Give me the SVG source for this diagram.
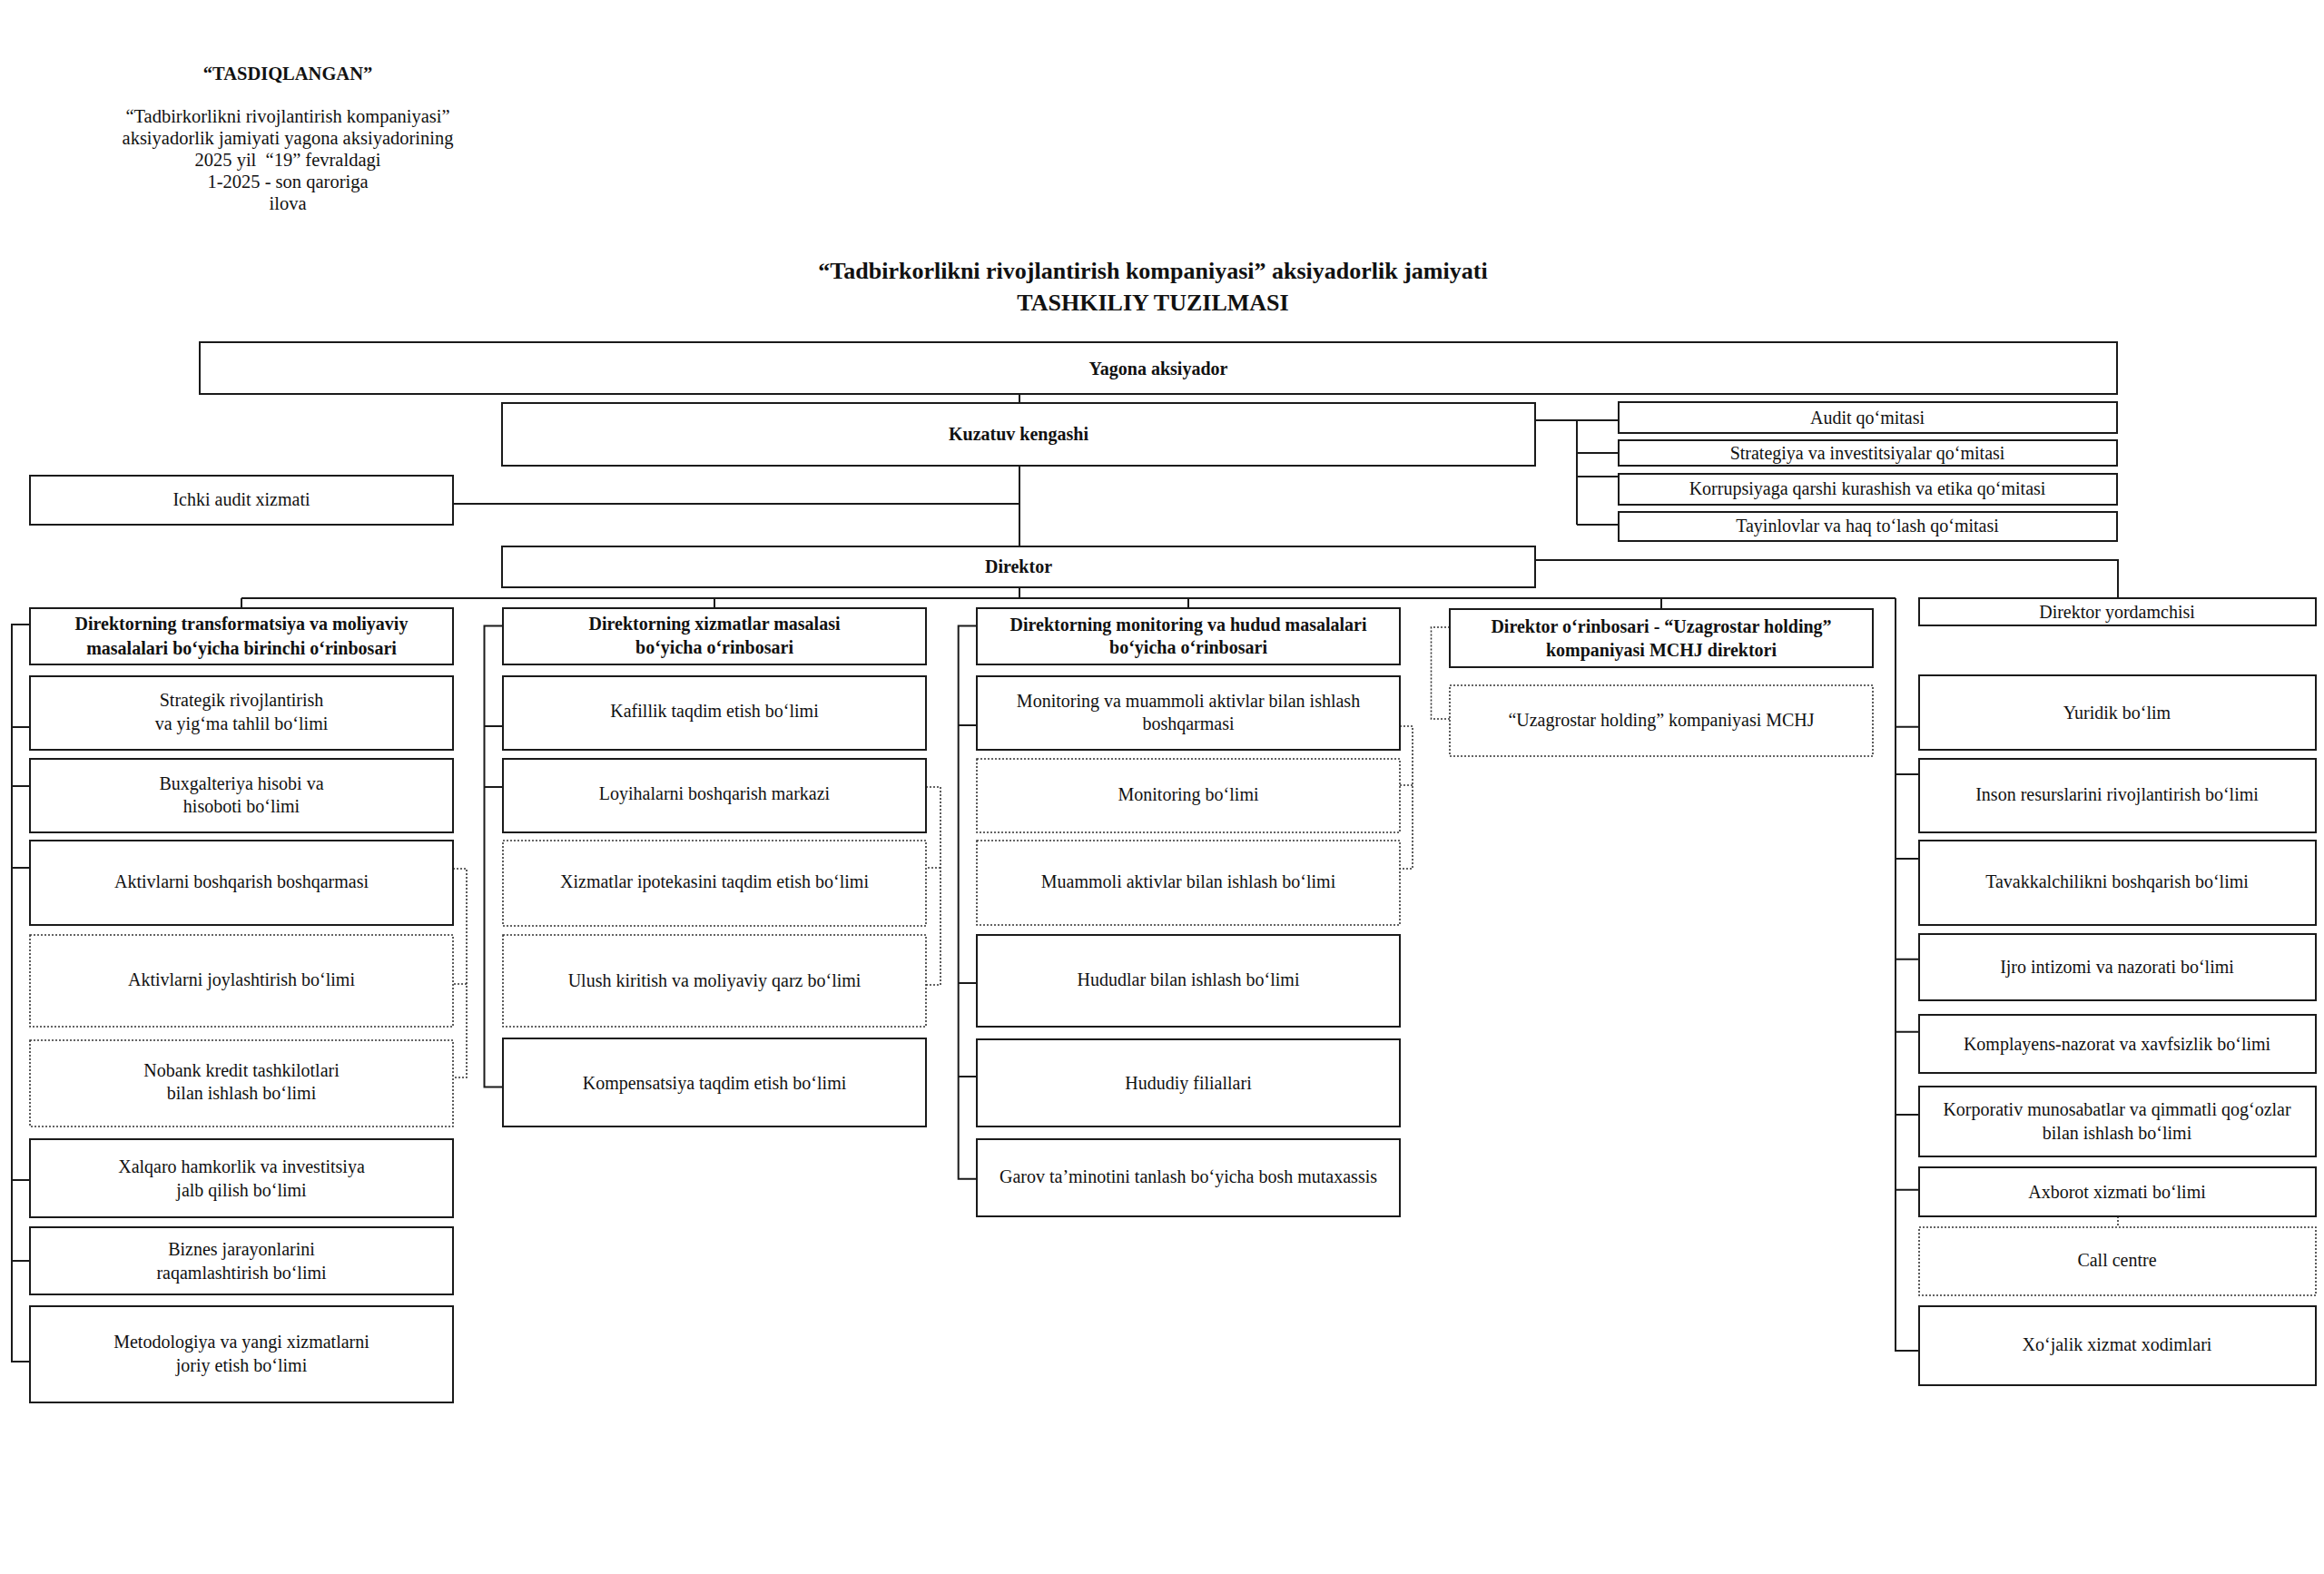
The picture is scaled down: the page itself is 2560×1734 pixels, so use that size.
<svg xmlns="http://www.w3.org/2000/svg" width="2560" height="1734" viewBox="0 0 2560 1734">
<style>
.bg{fill:#fff}
.box{fill:#fff;stroke:#1a1a1a;stroke-width:2}
.dot{fill:#fff;stroke:#333;stroke-width:1.6;stroke-dasharray:2 2}
.ln{stroke:#1a1a1a;stroke-width:2;fill:none}
.dl{stroke:#333;stroke-width:1.6;stroke-dasharray:2 2;fill:none}
text{font-family:'Liberation Serif','Times New Roman',serif;font-size:20px;fill:#111;text-anchor:middle}
.b{font-weight:bold}
.hd{font-size:20.5px}
.title{font-size:26px;font-weight:bold}
</style>
<rect class="bg" x="0" y="0" width="2560" height="1734"/>

<g id="header">
<text class="b hd" x="317" y="88">“TASDIQLANGAN”</text>
<text class="hd" x="317" y="135">“Tadbirkorlikni rivojlantirish kompaniyasi”</text>
<text class="hd" x="317" y="159">aksiyadorlik jamiyati yagona aksiyadorining</text>
<text class="hd" x="317" y="183" xml:space="preserve">2025 yil  “19” fevraldagi</text>
<text class="hd" x="317" y="207">1-2025 - son qaroriga</text>
<text class="hd" x="317" y="231">ilova</text>
</g>
<g id="title">
<text class="title" x="1270" y="307">“Tadbirkorlikni rivojlantirish kompaniyasi” aksiyadorlik jamiyati</text>
<text class="title" x="1270" y="342">TASHKILIY TUZILMASI</text>
</g>

<g id="connectors">
<path class="ln" d="M1123 434V444M1123 513V602M500 555H1123"/>
<path class="ln" d="M1691 463H1783M1737 463V578M1737 499H1783M1737 525H1783M1737 578H1783"/>
<path class="ln" d="M1690 617H2333V659"/>
<path class="ln" d="M1123 647V659M266 659H2088M266 659V670M787 659V670M1309 659V670M1830 659V671"/>
<path class="ln" d="M33 688H13V1500H33M13 801H33M13 866H33M13 956H33M13 1300H33M13 1389H33"/>
<path class="ln" d="M554 689.5H533.5V1197.6H554M533.5 800H554M533.5 867H554"/>
<path class="ln" d="M1076 689.5H1055.7V1298.8H1076M1055.7 799H1076M1055.7 1083H1076M1055.7 1186H1076"/>
<path class="ln" d="M2088 659V1488H2114M2088 800.7H2114M2088 853H2114M2088 946H2114M2088 1056.7H2114M2088 1136.7H2114M2088 1228H2114M2088 1310.7H2114"/>
<path class="dl" d="M499 957H514V1187H499M514 1084H499"/>
<path class="dl" d="M1020 867H1036V1085H1020M1036 956H1020"/>
<path class="dl" d="M1542 800H1556V957H1542M1556 865H1542"/>
<path class="dl" d="M1597 691H1576.5V792H1597"/>
<path class="dl" d="M2333 1340V1352"/>
</g>

<g id="yagona"><rect class="box" x="220" y="377" width="2112" height="57"/><text class="b" x="1276" y="413">Yagona aksiyador</text></g>
<g id="kuzatuv"><rect class="box" x="553" y="444" width="1138" height="69"/><text class="b" x="1122" y="485">Kuzatuv kengashi</text></g>
<g id="ichki-audit"><rect class="box" x="33" y="524" width="466" height="54"/><text x="266" y="557">Ichki audit xizmati</text></g>
<g id="direktor"><rect class="box" x="553" y="602" width="1138" height="45"/><text class="b" x="1122" y="631">Direktor</text></g>
<g id="audit-qomitasi"><rect class="box" x="1783" y="443" width="549" height="34"/><text x="2057" y="467">Audit qo‘mitasi</text></g>
<g id="strategiya-qomitasi"><rect class="box" x="1783" y="485" width="549" height="28"/><text x="2057" y="506">Strategiya va investitsiyalar qo‘mitasi</text></g>
<g id="korrupsiya-qomitasi"><rect class="box" x="1783" y="522" width="549" height="34"/><text x="2057" y="545">Korrupsiyaga qarshi kurashish va etika qo‘mitasi</text></g>
<g id="tayinlovlar-qomitasi"><rect class="box" x="1783" y="564" width="549" height="32"/><text x="2057" y="586">Tayinlovlar va haq to‘lash qo‘mitasi</text></g>

<g id="col1-head"><rect class="box" x="33" y="670" width="466" height="62"/><text class="b" x="266" y="694">Direktorning transformatsiya va moliyaviy</text><text class="b" x="266" y="721">masalalari bo‘yicha birinchi o‘rinbosari</text></g>
<g id="strategik"><rect class="box" x="33" y="745" width="466" height="81"/><text x="266" y="778">Strategik rivojlantirish</text><text x="266" y="804">va yig‘ma tahlil bo‘limi</text></g>
<g id="buxgalteriya"><rect class="box" x="33" y="836" width="466" height="81"/><text x="266" y="870">Buxgalteriya hisobi va</text><text x="266" y="895">hisoboti bo‘limi</text></g>
<g id="aktiv-boshqarma"><rect class="box" x="33" y="926" width="466" height="93"/><text x="266" y="978">Aktivlarni boshqarish boshqarmasi</text></g>
<g id="aktiv-joylash"><rect class="dot" x="33" y="1030" width="466" height="101"/><text x="266" y="1086">Aktivlarni joylashtirish bo‘limi</text></g>
<g id="nobank"><rect class="dot" x="33" y="1146" width="466" height="95"/><text x="266" y="1186">Nobank kredit tashkilotlari</text><text x="266" y="1211">bilan ishlash bo‘limi</text></g>
<g id="xalqaro"><rect class="box" x="33" y="1255" width="466" height="86"/><text x="266" y="1292">Xalqaro hamkorlik va investitsiya</text><text x="266" y="1318">jalb qilish bo‘limi</text></g>
<g id="biznes"><rect class="box" x="33" y="1352" width="466" height="74"/><text x="266" y="1383">Biznes jarayonlarini</text><text x="266" y="1409">raqamlashtirish bo‘limi</text></g>
<g id="metodologiya"><rect class="box" x="33" y="1439" width="466" height="106"/><text x="266" y="1485">Metodologiya va yangi xizmatlarni</text><text x="266" y="1511">joriy etish bo‘limi</text></g>

<g id="col2-head"><rect class="box" x="554" y="670" width="466" height="62"/><text class="b" x="787" y="694">Direktorning xizmatlar masalasi</text><text class="b" x="787" y="720">bo‘yicha o‘rinbosari</text></g>
<g id="kafillik"><rect class="box" x="554" y="745" width="466" height="81"/><text x="787" y="790">Kafillik taqdim etish bo‘limi</text></g>
<g id="loyiha"><rect class="box" x="554" y="836" width="466" height="81"/><text x="787" y="881">Loyihalarni boshqarish markazi</text></g>
<g id="ipoteka"><rect class="dot" x="554" y="926" width="466" height="94"/><text x="787" y="978">Xizmatlar ipotekasini taqdim etish bo‘limi</text></g>
<g id="ulush"><rect class="dot" x="554" y="1030" width="466" height="101"/><text x="787" y="1087">Ulush kiritish va moliyaviy qarz bo‘limi</text></g>
<g id="kompensatsiya"><rect class="box" x="554" y="1144" width="466" height="97"/><text x="787" y="1200">Kompensatsiya taqdim etish bo‘limi</text></g>

<g id="col3-head"><rect class="box" x="1076" y="670" width="466" height="62"/><text class="b" x="1309" y="695">Direktorning monitoring va hudud masalalari</text><text class="b" x="1309" y="720">bo‘yicha o‘rinbosari</text></g>
<g id="monitoring-boshqarma"><rect class="box" x="1076" y="745" width="466" height="81"/><text x="1309" y="779">Monitoring va muammoli aktivlar bilan ishlash</text><text x="1309" y="804">boshqarmasi</text></g>
<g id="monitoring"><rect class="dot" x="1076" y="836" width="466" height="81"/><text x="1309" y="882">Monitoring bo‘limi</text></g>
<g id="muammoli"><rect class="dot" x="1076" y="926" width="466" height="93"/><text x="1309" y="978">Muammoli aktivlar bilan ishlash bo‘limi</text></g>
<g id="hududlar"><rect class="box" x="1076" y="1030" width="466" height="101"/><text x="1309" y="1086">Hududlar bilan ishlash bo‘limi</text></g>
<g id="hududiy"><rect class="box" x="1076" y="1145" width="466" height="96"/><text x="1309" y="1200">Hududiy filiallari</text></g>
<g id="garov"><rect class="box" x="1076" y="1255" width="466" height="85"/><text x="1309" y="1303">Garov ta’minotini tanlash bo‘yicha bosh mutaxassis</text></g>

<g id="col4-head"><rect class="box" x="1597" y="671" width="466" height="64"/><text class="b" x="1830" y="697">Direktor o‘rinbosari - “Uzagrostar holding”</text><text class="b" x="1830" y="723">kompaniyasi MCHJ direktori</text></g>
<g id="uzagrostar"><rect class="dot" x="1597" y="755" width="466" height="78"/><text x="1830" y="800">“Uzagrostar holding” kompaniyasi MCHJ</text></g>

<g id="yordamchi"><rect class="box" x="2114" y="659" width="437" height="30"/><text x="2332" y="681">Direktor yordamchisi</text></g>
<g id="yuridik"><rect class="box" x="2114" y="744" width="437" height="82"/><text x="2332" y="792">Yuridik bo‘lim</text></g>
<g id="inson"><rect class="box" x="2114" y="836" width="437" height="81"/><text x="2332" y="882">Inson resurslarini rivojlantirish bo‘limi</text></g>
<g id="tavakkal"><rect class="box" x="2114" y="926" width="437" height="93"/><text x="2332" y="978">Tavakkalchilikni boshqarish bo‘limi</text></g>
<g id="ijro"><rect class="box" x="2114" y="1029" width="437" height="73"/><text x="2332" y="1072">Ijro intizomi va nazorati bo‘limi</text></g>
<g id="komplayens"><rect class="box" x="2114" y="1118" width="437" height="64"/><text x="2332" y="1157">Komplayens-nazorat va xavfsizlik bo‘limi</text></g>
<g id="korporativ"><rect class="box" x="2114" y="1197" width="437" height="77"/><text x="2332" y="1229">Korporativ munosabatlar va qimmatli qog‘ozlar</text><text x="2332" y="1255">bilan ishlash bo‘limi</text></g>
<g id="axborot"><rect class="box" x="2114" y="1286" width="437" height="54"/><text x="2332" y="1320">Axborot xizmati bo‘limi</text></g>
<g id="call-centre"><rect class="dot" x="2114" y="1352" width="437" height="75"/><text x="2332" y="1395">Call centre</text></g>
<g id="xojalik"><rect class="box" x="2114" y="1439" width="437" height="87"/><text x="2332" y="1488">Xo‘jalik xizmat xodimlari</text></g>
</svg>
